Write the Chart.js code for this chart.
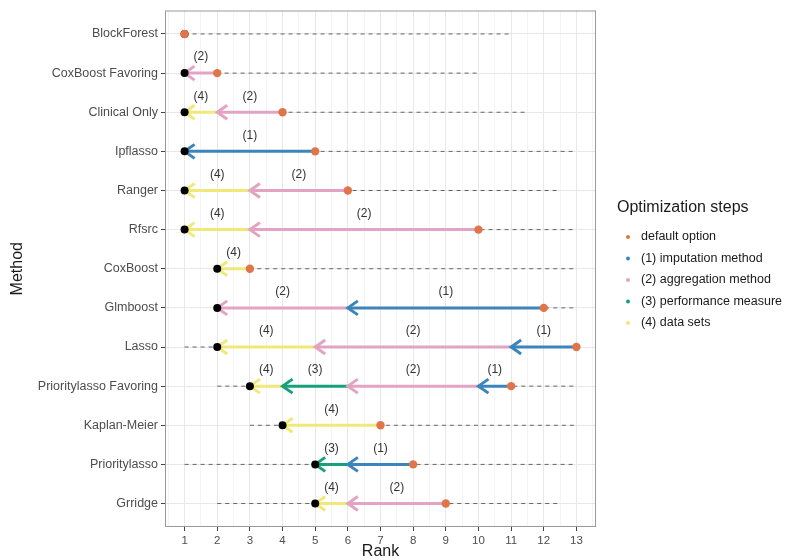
<!DOCTYPE html>
<html>
<head>
<meta charset="utf-8">
<script src="https://cdn.jsdelivr.net/npm/chart.js@4.4.1/dist/chart.umd.min.js"></script>
<style>
  html, body { margin: 0; padding: 0; background: #fff; }
  #wrap { width: 799px; height: 560px; position: relative; }
</style>
</head>
<body>
<div id="wrap"><canvas id="rankChart"></canvas></div>
<script>
// rows, top to bottom
var methods = ["BlockForest", "CoxBoost Favoring", "Clinical Only", "Ipflasso", "Ranger", "Rfsrc",
               "CoxBoost", "Glmboost", "Lasso", "Prioritylasso Favoring", "Kaplan-Meier",
               "Prioritylasso", "Grridge"];

// rank with default options
var defaultRank = [1, 2, 4, 5, 6, 10, 3, 12, 13, 11, 7, 8, 9];
// rank after each optimization step (null = step changed nothing)
var afterStep1 = [null, null, null, 1, null, null, null, 6, 11, 10, null, 6, null];
var afterStep2 = [null, 1, 2, null, 3, 3, null, 2, 5, 6, null, null, 6];
var afterStep3 = [null, null, null, null, null, null, null, null, null, 4, null, 5, null];
var afterStep4 = [null, null, 1, null, 1, 1, 2, null, 2, 3, 4, null, 5];

// range of ranks over all configurations (dashed lines)
var rangeMin = [1, 1, 1, 1, 1, 1, 2, 2, 1, 2, 3, 1, 2];
var rangeMax = [11, 10, 11.5, 13, 12.5, 13, 13, 13, 13, 13, 13, 13, 12.5];

var xTicks = [1, 2, 3, 4, 5, 6, 7, 8, 9, 10, 11, 12, 13];
var legendLabels = ["default option", "(1) imputation method", "(2) aggregation method",
                    "(3) performance measure", "(4) data sets"];

var colors = ["#E0754A", "#3C84BC", "#E3A3C3", "#17A07A", "#F0E878"];
var FONT = '"Liberation Sans", Arial, sans-serif';

var steps = [afterStep1, afterStep2, afterStep3, afterStep4];
var datasets = [];
var finalRank = [];

// default points (on top)
datasets.push({
    data: methods.map(function (m, i) { return { x: defaultRank[i], y: i + 1 }; }),
    backgroundColor: colors[0],
    borderWidth: 0,
    pointRadius: 4.2,
    order: 0
});

// step arrows
for (var i = 0; i < methods.length; i++) {
    var cur = defaultRank[i];
    for (var k = 0; k < steps.length; k++) {
        var nxt = steps[k][i];
        if (nxt === null) continue;
        datasets.push({
            data: [{ x: cur, y: i + 1 }, { x: nxt, y: i + 1 }],
            showLine: true,
            borderColor: colors[k + 1],
            borderWidth: 3,
            pointRadius: 0,
            arrow: true,
            stepLabel: "(" + (k + 1) + ")",
            order: 2
        });
        cur = nxt;
    }
    finalRank.push(cur);
}

// final (optimized) points
datasets.splice(1, 0, {
    data: methods.map(function (m, i) { return { x: finalRank[i], y: i + 1 }; }),
    backgroundColor: "#000",
    borderWidth: 0,
    pointRadius: 4,
    order: 1
});

// dashed range lines
for (var j = 0; j < methods.length; j++) {
    datasets.push({
        data: [{ x: rangeMin[j], y: j + 1 }, { x: rangeMax[j], y: j + 1 }],
        showLine: true,
        borderColor: "#666",
        borderWidth: 1,
        borderDash: [4, 4],
        pointRadius: 0,
        order: 3
    });
}

var arrowPlugin = {
    id: "arrows",
    afterDatasetDraw: function (chart, args) {
        var ds = chart.data.datasets[args.index];
        if (!ds.arrow) return;
        var p0 = args.meta.data[0], p1 = args.meta.data[1];
        var ctx = chart.ctx;
        var dir = p1.x > p0.x ? 1 : -1;
        ctx.save();
        ctx.strokeStyle = ds.borderColor;
        ctx.lineWidth = ds.borderWidth;
        ctx.lineJoin = "miter";
        ctx.beginPath();
        ctx.moveTo(p1.x - dir * 10, p1.y - 7);
        ctx.lineTo(p1.x, p1.y);
        ctx.lineTo(p1.x - dir * 10, p1.y + 7);
        ctx.stroke();
        ctx.fillStyle = "#333";
        ctx.font = "12px " + FONT;
        ctx.textAlign = "center";
        ctx.textBaseline = "middle";
        ctx.fillText(ds.stepLabel, (p0.x + p1.x) / 2, p0.y - 16);
        ctx.restore();
    }
};

var decorPlugin = {
    id: "decor",
    beforeDraw: function (chart) {
        var ctx = chart.ctx;
        ctx.save();
        ctx.fillStyle = "#fff";
        ctx.fillRect(0, 0, chart.width, chart.height);
        ctx.restore();
    },
    afterDraw: function (chart) {
        var ctx = chart.ctx, a = chart.chartArea;
        ctx.save();
        ctx.strokeStyle = "#9a9a9a";
        ctx.lineWidth = 1;
        ctx.strokeRect(a.left + 0.5, a.top + 0.5, a.right - a.left - 1, a.bottom - a.top - 1);

        // axis titles
        ctx.fillStyle = "#1a1a1a";
        ctx.font = "16px " + FONT;
        ctx.textAlign = "center";
        ctx.textBaseline = "middle";
        ctx.fillText("Rank", (a.left + a.right) / 2, 552);
        ctx.save();
        ctx.translate(18, (a.top + a.bottom) / 2);
        ctx.rotate(-Math.PI / 2);
        ctx.fillText("Method", 0, 0);
        ctx.restore();

        // legend
        ctx.textAlign = "left";
        ctx.font = "16px " + FONT;
        ctx.fillText("Optimization steps", 617, 208);
        ctx.font = "12.5px " + FONT;
        for (var n = 0; n < legendLabels.length; n++) {
            var ly = 237 + n * 21.5;
            ctx.fillStyle = colors[n];
            ctx.beginPath();
            ctx.arc(628, ly, 2, 0, Math.PI * 2);
            ctx.fill();
            ctx.fillStyle = "#1a1a1a";
            ctx.fillText(legendLabels[n], 641, ly);
        }
        ctx.restore();
    }
};

new Chart(document.getElementById("rankChart"), {
    type: "scatter",
    data: { datasets: datasets },
    options: {
        responsive: true,
        maintainAspectRatio: false,
        animation: false,
        layout: { padding: { left: 0, right: 203, top: 10, bottom: 0 } },
        plugins: {
            legend: { display: false },
            tooltip: { enabled: false }
        },
        scales: {
            x: {
                type: "linear",
                min: 0.4,
                max: 13.6,
                afterBuildTicks: function (s) {
                    var t = [];
                    xTicks.forEach(function (v) { t.push({ value: v - 0.5 }); t.push({ value: v }); });
                    t.push({ value: 13.5 });
                    s.ticks = t;
                },
                afterFit: function (s) { s.height = 33; },
                ticks: {
                    autoSkip: false,
                    maxRotation: 0,
                    padding: 3,
                    color: "#4d4d4d",
                    font: { size: 11.5, family: FONT },
                    callback: function (v) { return Number.isInteger(v) ? String(v) : ""; }
                },
                grid: {
                    color: function (c) { return c.tick && Number.isInteger(c.tick.value) ? "#e8e8e8" : "#f4f4f4"; },
                    tickColor: function (c) { return c.tick && Number.isInteger(c.tick.value) ? "#444" : "rgba(0,0,0,0)"; },
                    tickLength: 4
                },
                border: { display: false }
            },
            y: {
                type: "linear",
                reverse: true,
                min: 0.4,
                max: 13.6,
                afterBuildTicks: function (s) {
                    s.ticks = methods.map(function (m, i) { return { value: i + 1 }; });
                },
                afterFit: function (s) { s.width = 165; },
                ticks: {
                    autoSkip: false,
                    padding: 3,
                    color: "#4d4d4d",
                    font: { size: 12.5, family: FONT },
                    callback: function (v) { return methods[v - 1]; }
                },
                grid: {
                    color: "#e8e8e8",
                    tickColor: "#444",
                    tickLength: 4
                },
                border: { display: false }
            }
        }
    },
    plugins: [arrowPlugin, decorPlugin]
});
</script>
</body>
</html>
